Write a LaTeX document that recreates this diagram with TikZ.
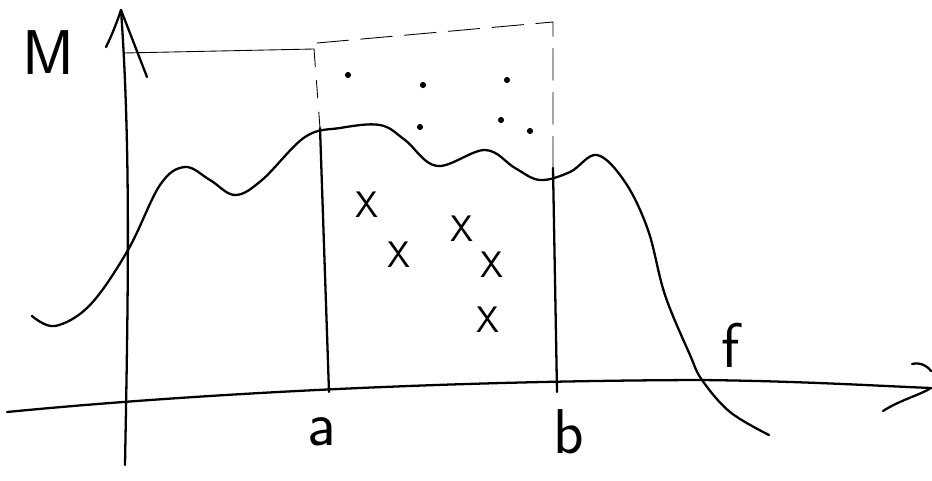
\documentclass[tikz,border=0pt]{standalone}
\usepackage{tikz}
\usetikzlibrary{calc}

\begin{document}
\begin{tikzpicture}[x=0.02cm, y=-0.02cm, line cap=round, line join=round,
  stroke/.style={line width=1.3pt},
  faint/.style={line width=0.5pt},
  lbl/.style={font=\sffamily\fontsize{36}{36}\selectfont, inner sep=0pt},
  crs/.style={font=\sffamily\fontsize{21}{21}\selectfont, inner sep=0pt},
  spot/.style={circle, fill, inner sep=0pt, minimum size=3.5pt}]
  \useasboundingbox (0,0) rectangle (932,480);

  % axes
  \coordinate (ytop) at (121,10);
  \coordinate (xend) at (931,388);
  \draw[stroke] (125,465) .. controls (128,300) and (131,150) .. (ytop);
  \draw[stroke] (106,47) .. controls (112,35) and (117,22) .. (ytop) -- (147,77);
  \draw[stroke] (7,412) .. controls (150,398) and (400,381) .. (700,380)
    .. controls (800,381) and (880,386) .. (xend);
  \draw[stroke] (912,364) .. controls (920,362) and (928,366) .. (931,371);
  \draw[stroke] (883,411) .. controls (900,400) and (920,395) .. (xend);

  % interval a..b
  \coordinate (atop) at (320,128);
  \coordinate (btop) at (553,168);
  \draw[stroke] (atop) -- (329,392);
  \draw[stroke] (btop) -- (557,392);

  % box above the curve
  \draw[faint] (124,53) -- (314,49);
  \draw[faint, dash pattern=on 18pt off 7pt] (317,43) -- (553,22) -- (btop);
  \draw[faint, dash pattern=on 10pt off 8pt] (314,49) -- (atop);

  % the function
  \draw[stroke] plot[smooth, tension=0.6] coordinates {(32,316) (55,326) (90,305)
    (128,250) (160,185) (185,167) (210,180) (235,195) (262,180) (305,137)
    (340,128) (380,125) (405,140) (437,166) (485,150) (515,168) (540,180)
    (570,172) (597,155) (625,182) (648,230) (665,295) (690,355) (702,380)
    (730,412) (769,435)};

  % points
  \node[spot] (d1) at (348,75) {};
  \node[spot] (d2) at (423,85) {};
  \node[spot] (d3) at (507,80) {};
  \node[spot] (d4) at (420,127) {};
  \node[spot] (d5) at (501,120) {};
  \node[spot] (d6) at (530,131) {};

  \node[crs] (x1) at (367,205) {X};
  \node[crs] (x2) at (399,255) {X};
  \node[crs] (x3) at (462,229) {X};
  \node[crs] (x4) at (492,265) {X};
  \node[crs] (x5) at (488,320) {X};

  % labels
  \node[lbl] (M) at (48,53) {M};
  \node[lbl] (a) at (322,432) {a};
  \node[lbl] (b) at (569,432) {b};
  \node[lbl] (f) at (731,345) {f};
\end{tikzpicture}
\end{document}
